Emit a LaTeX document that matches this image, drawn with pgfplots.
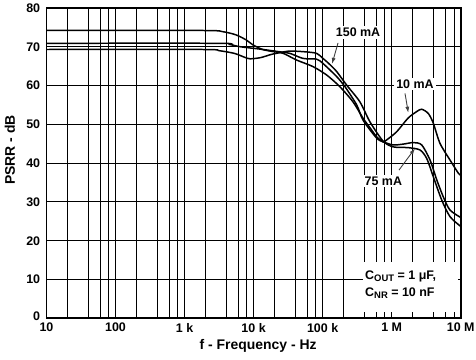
\documentclass[border=0pt]{standalone}
\usepackage{fontspec}
\setmainfont{Liberation Sans}
\usepackage{pgfplots}
\pgfplotsset{compat=1.18}
\usetikzlibrary{arrows.meta}
\newcommand{\lblfont}{\fontsize{12.5}{14}\selectfont\bfseries}
\newcommand{\axfont}{\fontsize{14}{15}\selectfont\bfseries}
\begin{document}
\lblfont
\begin{tikzpicture}
\useasboundingbox (-46.5bp,-41.7bp) rectangle (429.5bp,318.3bp);
\begin{axis}[
  at={(0,0)}, anchor=south west,
  scale only axis, width=414.2bp, height=310.3bp,
  xmode=log, log basis x=10,
  xmin=10, xmax=1e7, ymin=0, ymax=80,
  xtick={10,100,1000,1e4,1e5,1e6,1e7},
  xticklabels={10,100,1 k,10 k,100 k,1 M,10 M},
  minor xtick={20,40,60,80,200,400,600,800,2000,4000,6000,8000,2e4,4e4,6e4,8e4,2e5,4e5,6e5,8e5,2e6,4e6,6e6,8e6},
  ytick={0,10,20,30,40,50,60,70,80},
  yticklabels={\raisebox{4bp}{0},10,20,30,40,50,60,70,80},
  grid=both,
  major grid style={black, line width=1pt},
  minor grid style={black, line width=1pt},
  major tick length=0pt, minor tick length=0pt,
  axis line style={line width=2pt},
  tick label style={font=\lblfont},
  xticklabel style={yshift=-3.5bp, inner sep=1bp},
  yticklabel style={xshift=-2bp},
  /pgf/number format/assume math mode=true,
  every axis x label/.style={at={(axis description cs:0.511,-0.088)}, anchor=center, inner sep=0pt, font=\axfont},
  every axis y label/.style={at={(axis description cs:-0.0881,0.542)}, anchor=center, rotate=90, inner sep=0pt, font=\axfont},
  xlabel={f - Frequency - Hz},
  ylabel={PSRR - dB},
]
% 10 mA
\addplot[black, line width=1.5pt, smooth, tension=0.45] coordinates {
(10,74.2) (1850,74.2) (3550,73.9) (5500,73.1) (7760,71.8) (9770,70.5) (13500,69.3) (18600,68.8)
(26900,68.3) (41700,66.6) (72400,64.9) (114800,62.7) (177800,59.7) (275400,55.8) (384600,51.6)
(486400,49.1) (606700,46.8) (749900,45.5) (847200,46.0) (1.183e6,48.1) (1.726e6,51.6)
(2.307e6,53.3) (2.723e6,53.9) (3.396e6,52.8) (4.009e6,50.3) (5.012e6,45.1) (7.0e6,40.8)
(9.25e6,37.4) (1e7,36.9)
};
% 75 mA
\addplot[black, line width=1.5pt, smooth, tension=0.45] coordinates {
(10,70.9) (3020,70.9) (4470,70.6) (6460,70.0) (12400,69.4) (24150,68.7) (33650,68.3)
(52000,67.0) (82000,66.8) (101200,65.7) (160000,62.3) (210900,59.7) (311900,55.0)
(384600,51.1) (602600,46.5) (749900,45.5) (1.047e6,44.7) (1.462e6,44.9) (2.061e6,45.3)
(2.723e6,44.7) (3.597e6,40.8) (4.498e6,35.7) (5.598e6,31.3) (7.0e6,27.9) (1e7,26.0)
};
% 150 mA
\addplot[black, line width=1.5pt, smooth, tension=0.45] coordinates {
(10,69.3) (1850,69.3) (3160,69.0) (5250,68.3) (7400,67.3) (8900,66.9) (12600,67.2)
(17800,68.0) (24150,68.5) (33650,68.9) (56200,68.7) (82000,68.3) (101200,67.0)
(125900,65.5) (160000,63.6) (223400,60.1) (346700,55.8) (486400,50.6) (749900,45.7)
(1.047e6,44.2) (1.726e6,44.0) (2.57e6,43.4) (3.221e6,41.2) (4.009e6,36.5) (5.309e6,30.5)
(7.0e6,26.2) (1e7,23.7)
};
% labels
\node[fill=white, inner sep=2bp, font=\lblfont] at (axis cs:3.26e5,73.7) {150 mA};
\node[fill=white, inner sep=2bp, font=\lblfont] at (axis cs:2.178e6,60.4) {10 mA};
\node[fill=white, inner sep=2bp, font=\lblfont] at (axis cs:7.57e5,35.4) {75 mA};
\draw[black!75, line width=0.9pt, -{Latex[length=6bp,width=4bp]}] (axis cs:1.671e5,71.0) -- (axis cs:1.37e5,65.6);
\draw[black!75, line width=0.9pt, -{Latex[length=6bp,width=4bp]}] (axis cs:1.56e6,58.0) -- (axis cs:1.742e6,53.0);
\draw[black!75, line width=0.9pt, -{Latex[length=6bp,width=4bp]}] (axis cs:1.274e6,38.2) -- (axis cs:2.178e6,43.8);
% annotation
\fill[white] (axis cs:3.85e5,1.6) rectangle (axis cs:9.18e6,14.5);
\node[anchor=west, align=left, inner sep=0pt, font=\fontsize{12.5}{17}\selectfont\bfseries] at (axis cs:4.11e5,8.7)
  {C\raisebox{-0.35ex}{\fontsize{9.5}{9.5}\selectfont OUT} = 1 μF,\\C\raisebox{-0.35ex}{\fontsize{9.5}{9.5}\selectfont NR} = 10 nF};
\end{axis}
\end{tikzpicture}
\end{document}
